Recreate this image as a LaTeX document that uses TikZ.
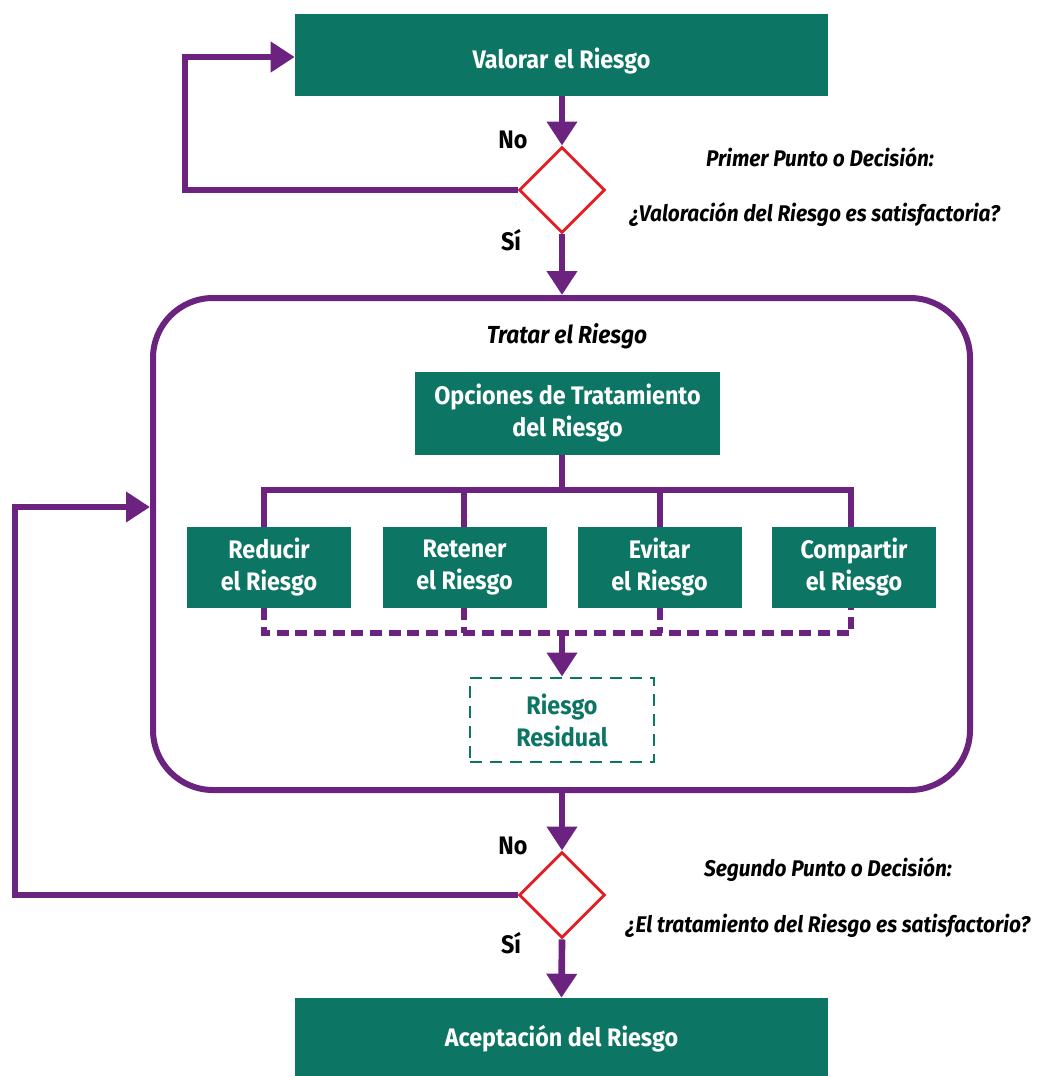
\documentclass[tikz,border=0pt]{standalone}
\usepackage{fontspec}
\setmainfont{Fira Sans}[FakeStretch=0.92]
\usetikzlibrary{arrows.meta,shapes.geometric}
\definecolor{vgreen}{RGB}{13,117,99}
\definecolor{vpurple}{RGB}{108,35,128}
\definecolor{vred}{RGB}{227,30,36}
\tikzset{
  gbox/.style={fill=vgreen, text=white, font=\fontsize{19}{24}\selectfont\bfseries, align=center, inner sep=0pt},
  dia/.style={diamond, draw=vred, fill=white, line width=2.2pt, inner sep=0pt, minimum width={86*0.75pt}, minimum height={86*0.75pt}},
  flow/.style={draw=vpurple, line width=5pt, line join=miter},
  arr/.style={flow, -{Triangle[width=22pt,length=18pt]}},
  dflow/.style={draw=vpurple, line width=4.5pt, dash pattern=on 9pt off 5pt},
  lab/.style={font=\fontsize{19}{23}\selectfont\bfseries, text=black},
  ital/.style={font=\fontsize{17}{21}\selectfont\bfseries\itshape, text=black},
}
\begin{document}
\begin{tikzpicture}[x=0.75pt,y=-0.75pt]
\useasboundingbox[fill=white] (0,0) rectangle (1041,1076);
% top
\node[gbox, minimum width={533*0.75pt}, minimum height={82*0.75pt}, text height=20pt, text depth=0pt] (top) at (561.5,55) {Valorar el Riesgo};
\node[dia] (d1) at (562,190) {};
\node[lab] (no1) at (513,140) {No};
\node[lab] (si1) at (511,240) {Sí};
\node[ital] (q1a) at (820,157) {Primer Punto o Decisión:};
\node[ital] (q1b) at (815,215) {¿Valoración del Riesgo es satisfactoria?};
% container
\node[draw=vpurple, line width=4.5pt, rounded corners=45pt, minimum width={817*0.75pt}, minimum height={492*0.75pt}, inner sep=0pt] (cont) at (561.5,544) {};
\node[ital, font=\fontsize{18.5}{22}\selectfont\bfseries\itshape] (tt) at (567,336) {Tratar el Riesgo};
\node[gbox, minimum width={305*0.75pt}, minimum height={83*0.75pt}] (opc) at (567.5,413.5) {Opciones de Tratamiento\\del Riesgo};
\node[gbox, minimum width={164*0.75pt}, minimum height={81*0.75pt}] (b1) at (269,567.5) {Reducir\\el Riesgo};
\node[gbox, minimum width={164*0.75pt}, minimum height={81*0.75pt}] (b2) at (464.5,567.5) {Retener\\el Riesgo};
\node[gbox, minimum width={164*0.75pt}, minimum height={81*0.75pt}] (b3) at (659.5,567.5) {Evitar\\el Riesgo};
\node[gbox, minimum width={164*0.75pt}, minimum height={81*0.75pt}] (b4) at (854,567.5) {Compartir\\el Riesgo};
\node[draw=vgreen, line width=2.2pt, dash pattern=on 9pt off 6pt, text=vgreen, font=\fontsize{19}{24}\selectfont\bfseries, align=center, minimum width={184*0.75pt}, minimum height={84*0.75pt}, inner sep=0pt] (res) at (562,720) {Riesgo\\Residual};
% bottom
\node[dia] (d2) at (562,895) {};
\node[lab] (no2) at (513,846) {No};
\node[lab] (si2) at (511,943) {Sí};
\node[ital] (q2a) at (828,870) {Segundo Punto o Decisión:};
\node[ital] (q2b) at (828,926) {¿El tratamiento del Riesgo es satisfactorio?};
\node[gbox, minimum width={533*0.75pt}, minimum height={82*0.75pt}] (acc) at (561.5,1039) {Aceptación del Riesgo};
% coordinates
\coordinate (bar) at (562,490);
\coordinate (x1) at (264,490);
\coordinate (x2) at (464,490);
\coordinate (x3) at (660,490);
\coordinate (x4) at (851,490);
\coordinate (e) at (562,633);
\coordinate (c1) at (185,57);
\coordinate (c2) at (15,507);
% connectors
\draw[arr] (top.south -| d1.north) -- (d1.north);
\draw[arr] (d1.west) -| (c1) -- (c1 -| top.west);
\draw[arr] (d1.south) -- (d1.south |- cont.north);
\draw[flow] (opc.south -| bar) -- (bar);
\draw[flow, line cap=rect] (x1) -- (x4);
\draw[flow] (x1) -- (x1 |- b1.north);
\draw[flow] (x2) -- (x2 |- b2.north);
\draw[flow] (x3) -- (x3 |- b3.north);
\draw[flow] (x4) -- (x4 |- b4.north);
\draw[dflow] (x1 |- b1.south) -- (x1 |- e) -- (x4 |- e) -- (x4 |- b4.south);
\draw[dflow] (x2 |- b2.south) -- (x2 |- e);
\draw[dflow] (x3 |- b3.south) -- (x3 |- e);
\draw[arr] (e) -- (res.north);
\draw[arr] (cont.south -| d2.north) -- (d2.north);
\draw[arr] (d2.west) -| (c2) -- (c2 -| cont.west);
\draw[arr] (d2.south) -- (acc.north);
\end{tikzpicture}
\end{document}
